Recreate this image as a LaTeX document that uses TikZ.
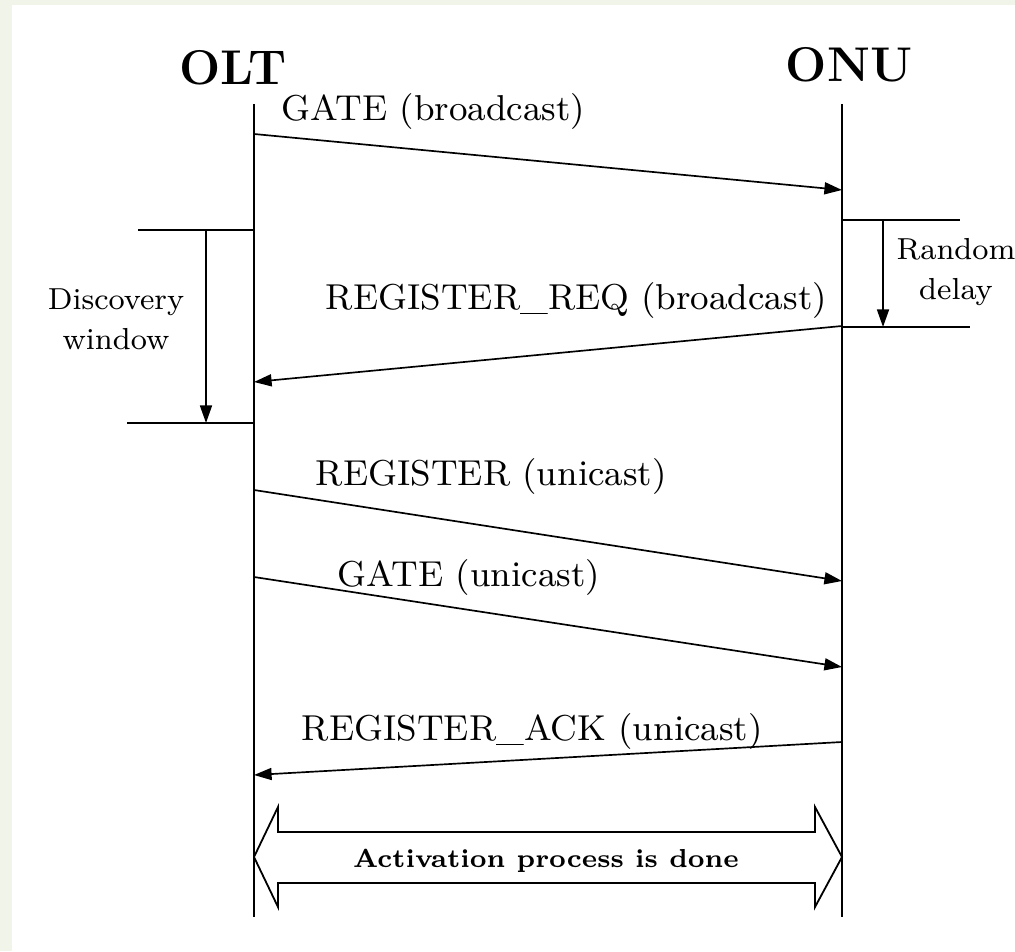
\documentclass[tikz,border=0pt]{standalone}
\usetikzlibrary{arrows.meta}
\definecolor{bgstrip}{RGB}{240,244,233}
\begin{document}
\begin{tikzpicture}[x=0.25pt,y=-0.25pt,
  life/.style={line width=0.55pt},
  tick/.style={line width=0.5pt},
  msg/.style={line width=0.42pt,-{Triangle[length=4.4pt,width=3pt]}},
  lbl/.style={font=\fontsize{9.0}{11}\selectfont,inner sep=0pt,anchor=base west},
  head/.style={font=\fontsize{12.2}{14}\selectfont\bfseries,inner sep=0pt,anchor=base},
  note/.style={font=\fontsize{7.6}{10}\selectfont,inner sep=0pt,align=center,anchor=base},
  boldnote/.style={font=\fontsize{6.5}{8}\selectfont\bfseries,inner sep=0pt,anchor=base}]
\fill[bgstrip] (0,0) rectangle (1015,951);
\fill[white] (12,5) rectangle (1015,951);
\useasboundingbox (0,0) rectangle (1015,951);
% headers
\node[head] (olt) at (233,85) {OLT};
\node[head] (onu) at (849,82) {ONU};
% lifelines
\coordinate (oltTop) at (254,104);
\coordinate (oltBot) at (254,917);
\coordinate (onuTop) at (842,104);
\coordinate (onuBot) at (842,917);
\draw[life] (oltTop) -- (oltBot);
\draw[life] (onuTop) -- (onuBot);
% GATE (broadcast)
\coordinate (m1s) at (254,134);
\coordinate (m1e) at (842,190);
\draw[msg] (m1s) -- (m1e);
\node[lbl] (l1) at (281,121) {GATE (broadcast)};
% Random delay
\coordinate (rd1a) at (842,220);
\coordinate (rd1b) at (960,220);
\coordinate (rd2a) at (842,327);
\coordinate (rd2b) at (970,327);
\coordinate (rdA) at (883,220);
\coordinate (rdB) at (883,327);
\draw[tick] (rd1a) -- (rd1b);
\draw[tick] (rd2a) -- (rd2b);
\draw[msg] (rdA) -- (rdB);
\node[note] (rdl) at (956,300) {Random\\delay};
% REGISTER_REQ
\coordinate (m2s) at (842,326);
\coordinate (m2e) at (254,382);
\draw[msg] (m2s) -- (m2e);
\node[lbl] (l2) at (325,310) {REGISTER\_REQ (broadcast)};
% Discovery window
\coordinate (dw1a) at (138,230);
\coordinate (dw1b) at (254,230);
\coordinate (dw2a) at (127,423);
\coordinate (dw2b) at (254,423);
\coordinate (dwA) at (206,230);
\coordinate (dwB) at (206,423);
\draw[tick] (dw1a) -- (dw1b);
\draw[tick] (dw2a) -- (dw2b);
\draw[msg] (dwA) -- (dwB);
\node[note] (dwl) at (116,350) {Discovery\\window};
% REGISTER (unicast)
\coordinate (m3s) at (254,490);
\coordinate (m3e) at (842,581);
\draw[msg] (m3s) -- (m3e);
\node[lbl] (l3) at (315,485) {REGISTER (unicast)};
% GATE (unicast)
\coordinate (m4s) at (254,577);
\coordinate (m4e) at (842,667);
\draw[msg] (m4s) -- (m4e);
\node[lbl] (l4) at (337,586) {GATE (unicast)};
% REGISTER_ACK
\coordinate (m5s) at (842,742);
\coordinate (m5e) at (254,775);
\draw[msg] (m5s) -- (m5e);
\node[lbl] (l5) at (301,740) {REGISTER\_ACK (unicast)};
% Activation double arrow
\draw[line width=0.45pt] (254,857) -- (278,807) -- (278,832) -- (815,832) -- (815,807)
  -- (842,857) -- (815,907) -- (815,883) -- (278,883) -- (278,907) -- cycle;
\node[boldnote] (act) at (546,867) {Activation process is done};
\end{tikzpicture}
\end{document}
